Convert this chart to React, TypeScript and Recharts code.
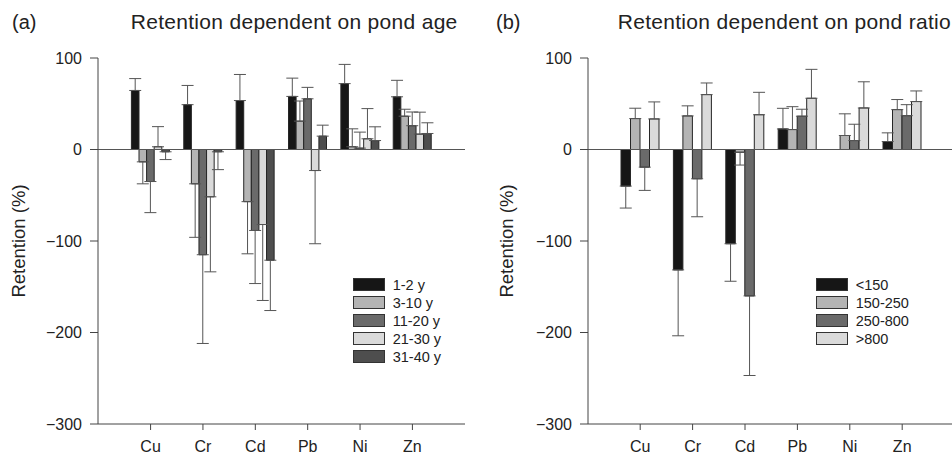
import React from 'react';
import { BarChart, Bar, XAxis, YAxis, ErrorBar, ReferenceLine, Legend } from 'recharts';

// ---------- categories ----------
const metals = ['Cu', 'Cr', 'Cd', 'Pb', 'Ni', 'Zn'];
const yTicks = [-300, -200, -100, 0, 100];

// ---------- (a) retention by pond age ----------
const ageGroups = ['1-2 y', '3-10 y', '11-20 y', '21-30 y', '31-40 y'];
const ageColors = ['#161616', '#b4b4b4', '#6a6a6a', '#dadada', '#4e4e4e'];
const age_1_2 = [64.5, 49, 53.5, 58, 72, 57.6];
const age_1_2_err = [13, 21, 28.5, 20, 21, 18];
const age_3_10 = [-13.5, -37.5, -57, 31, 3, 36.4];
const age_3_10_err = [24, 58.5, 57, 22, 19.6, 7.6];
const age_11_20 = [-35, -115, -88.5, 55.4, 1.5, 26];
const age_11_20_err = [34, 97, 58, 12.5, 17.5, 15];
const age_21_30 = [3, -51.7, -82, -23, 11.7, 16.8];
const age_21_30_err = [22, 82, 83, 80, 33, 24];
const age_31_40 = [-2.5, -2.5, -121, 14.6, 9.8, 17.5];
const age_31_40_err = [8.5, 19.5, 55, 12, 15, 11.7];

// ---------- (b) retention by pond ratio ----------
const ratioGroups = ['<150', '150-250', '250-800', '>800'];
const ratioColors = ['#161616', '#b4b4b4', '#6a6a6a', '#dadada'];
const ratio_lt150 = [-40, -131.6, -103, 22.5, 0, 8.7];
const ratio_lt150_err = [24, 72, 41, 22.5, 13.5, 9.5];
const ratio_150_250 = [33.8, 36.7, -3, 21.8, 15.3, 43.6];
const ratio_150_250_err = [11.3, 11, 14, 25, 23.7, 11];
const ratio_250_800 = [-19.3, -32, -160, 36.4, 9.8, 37];
const ratio_250_800_err = [25.4, 41.5, 87, 7.6, 17.8, 12];
const ratio_gt800 = [33.4, 60, 38, 56, 45.4, 52.4];
const ratio_gt800_err = [18.6, 12.7, 24.5, 31.6, 28.6, 11.6];

const ageValues = [age_1_2, age_3_10, age_11_20, age_21_30, age_31_40];
const ageErrors = [age_1_2_err, age_3_10_err, age_11_20_err, age_21_30_err, age_31_40_err];
const ratioValues = [ratio_lt150, ratio_150_250, ratio_250_800, ratio_gt800];
const ratioErrors = [ratio_lt150_err, ratio_150_250_err, ratio_250_800_err, ratio_gt800_err];

// one-sided error bars pointing away from zero
function buildRows(values: number[][], errors: number[][]) {
  return metals.map((m, i) => {
    const row: any = { metal: m };
    values.forEach((series, s) => {
      const v = series[i];
      const e = errors[s][i];
      row['v' + s] = v;
      row['e' + s] = v < 0 ? [e, 0] : [0, e];
    });
    return row;
  });
}

const ageRows = buildRows(ageValues, ageErrors);
const ratioRows = buildRows(ratioValues, ratioErrors);

const FONT = '"Liberation Sans", Arial, Helvetica, sans-serif';
const AXIS = '#444';
const TEXT = '#222';

const fmt = (v: number) => (v < 0 ? '\u2212' + Math.abs(v) : String(v));

const LegendBox = ({ names, colors }: { names: string[]; colors: string[] }) => (
  <div style={{ fontFamily: FONT }}>
    {names.map((n, i) => (
      <div key={n} style={{ display: 'flex', alignItems: 'center', height: 18 }}>
        <div
          style={{
            width: 32,
            height: 13,
            background: colors[i],
            border: '1px solid #333',
            boxSizing: 'border-box',
          }}
        />
        <span style={{ marginLeft: 8, fontSize: 14.5, color: TEXT, lineHeight: '18px' }}>{n}</span>
      </div>
    ))}
  </div>
);

const YLabel = (labelX: number) => (props: any) => {
  const vb = props.viewBox || {};
  const cy = vb.y + vb.height / 2;
  return (
    <text
      x={labelX}
      y={cy}
      transform={`rotate(-90, ${labelX}, ${cy})`}
      textAnchor="middle"
      dominantBaseline="central"
      fontSize={18.5}
      fill={TEXT}
      fontFamily={FONT}
    >
      Retention (%)
    </text>
  );
};

type PanelProps = {
  rows: any[];
  names: string[];
  colors: string[];
  width: number;
  yAxisWidth: number;
  rightMargin: number;
  pad: number;
  barSize: number;
  labelX: number;
  legendLeft: number;
};

const Panel = ({ rows, names, colors, width, yAxisWidth, rightMargin, pad, barSize, labelX, legendLeft }: PanelProps) => (
  <BarChart
    width={width}
    height={456}
    data={rows}
    margin={{ top: 58, right: rightMargin, bottom: 0, left: 0 }}
    barGap={0}
    barSize={barSize}
    style={{ fontFamily: FONT }}
  >
    <XAxis
      dataKey="metal"
      height={32}
      padding={{ left: pad, right: pad }}
      tickSize={6}
      tickMargin={11}
      tick={{ fontSize: 16, fill: TEXT, fontFamily: FONT }}
      axisLine={{ stroke: AXIS }}
      tickLine={{ stroke: AXIS }}
    />
    <XAxis
      xAxisId="top"
      dataKey="metal"
      orientation="top"
      height={0}
      tick={false}
      tickLine={false}
      axisLine={{ stroke: AXIS }}
    />
    <YAxis
      width={yAxisWidth}
      domain={[-300, 100]}
      ticks={yTicks}
      type="number"
      allowDataOverflow
      tickSize={8}
      tickMargin={8}
      tickFormatter={fmt}
      tick={{ fontSize: 16, fill: TEXT, fontFamily: FONT }}
      axisLine={{ stroke: AXIS }}
      tickLine={{ stroke: AXIS }}
      label={YLabel(labelX)}
    />
    <YAxis
      yAxisId="right"
      orientation="right"
      width={0}
      domain={[-300, 100]}
      type="number"
      tick={false}
      tickLine={false}
      axisLine={{ stroke: AXIS }}
    />
    <ReferenceLine y={0} stroke="#555" strokeWidth={1} />
    {names.map((n, s) => (
      <Bar key={n} dataKey={'v' + s} name={n} fill={colors[s]} stroke="#262626" strokeWidth={1} isAnimationActive={false}>
        <ErrorBar dataKey={'e' + s} direction="y" width={6} stroke="#555" strokeWidth={1} />
      </Bar>
    ))}
    <Legend
      layout="vertical"
      align="center"
      verticalAlign="middle"
      wrapperStyle={{ left: legendLeft, top: 275.5, width: 'auto' }}
      content={() => <LegendBox names={names} colors={colors} />}
    />
  </BarChart>
);

const Title = () => (
  <svg width={952} height={40} style={{ position: 'absolute', left: 0, top: 0 }}>
    <g fontFamily={FONT} fill={TEXT}>
      <text x={12} y={29} fontSize={20}>(a)</text>
      <text x={130.7} y={29} fontSize={21} letterSpacing={0.3}>Retention dependent on pond age</text>
      <text x={496} y={29} fontSize={20}>(b)</text>
      <text x={617.7} y={29} fontSize={21} letterSpacing={0.3}>Retention dependent on pond ratio</text>
    </g>
  </svg>
);

export default function App() {
  return (
    <div
      style={{
        position: 'absolute',
        left: 0,
        top: 0,
        width: 952,
        height: 456,
        overflow: 'hidden',
        background: '#fff',
        fontFamily: FONT,
      }}
    >
      <div style={{ position: 'absolute', left: 0, top: 0 }}>
        <Panel
          rows={ageRows}
          names={ageGroups}
          colors={ageColors}
          width={476}
          yAxisWidth={98}
          rightMargin={11}
          pad={26.4}
          barSize={7.6}
          labelX={18}
          legendLeft={352.7}
        />
      </div>
      <div style={{ position: 'absolute', left: 476, top: 0 }}>
        <Panel
          rows={ratioRows}
          names={ratioGroups}
          colors={ratioColors}
          width={482}
          yAxisWidth={112}
          rightMargin={3.6}
          pad={26}
          barSize={9.5}
          labelX={30.5}
          legendLeft={339.7}
        />
      </div>
      <Title />
    </div>
  );
}
